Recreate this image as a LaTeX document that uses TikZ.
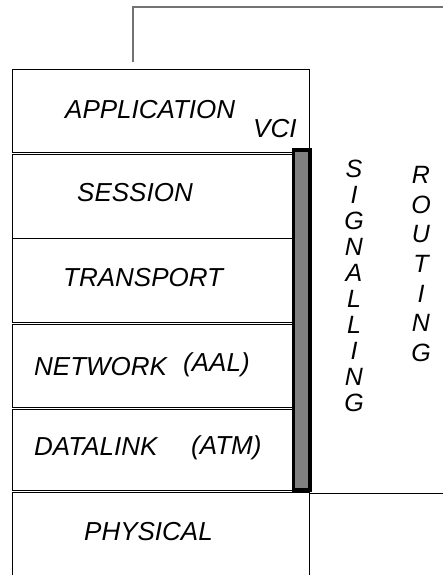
\documentclass[tikz,border=0pt]{standalone}
\usepackage{fontspec}
\setmainfont{Liberation Sans}
\begin{document}
\begin{tikzpicture}[x=1pt,y=-1pt,
  layer/.style={draw=black,line width=0.9pt},
  lbl/.style={inner sep=0pt,anchor=base west,font=\fontsize{26}{30}\selectfont\itshape},
  vert/.style={inner sep=0pt,anchor=north,align=center,font=\fontsize{25}{26}\selectfont\itshape},
  vertr/.style={vert,font=\fontsize{25}{29.7}\selectfont\itshape},
  bar/.style={draw=black,line width=3.5pt,fill=gray},
  thin/.style={draw=black,line width=0.9pt},
  topline/.style={draw=black!55,line width=1.1pt}
]
\useasboundingbox (0,0) rectangle (443,575);
% top gray line
\coordinate (t1) at (133,62);
\coordinate (t2) at (133,7);
\coordinate (t3) at (443,7);
\draw[topline] (t1) -- (t2) -- (t3);
% layer boxes
\draw[layer] (12,69) rectangle (309,152);
\draw[layer] (12,154) rectangle (293,238);
\draw[layer] (12,238) rectangle (293,322);
\draw[layer] (12,324) rectangle (293,407);
\draw[layer] (12,409) rectangle (293,490);
\draw[layer] (12,576) -- (12,492.7) -- (309.3,492.7) -- (309.3,576);
% bar
\draw[bar] (293.5,150) rectangle (310,490);
% right line
\coordinate (r1) at (310,493.5);
\coordinate (r2) at (443,493.5);
\draw[thin] (r1) -- (r2);
% labels
\node[lbl] (app) at (65,118) {APPLICATION};
\node[lbl] (vci) at (253,138) {VCI};
\node[lbl] (ses) at (77,201.7) {SESSION};
\node[lbl] (tra) at (63,286.7) {TRANSPORT};
\node[lbl] (net) at (34,375) {NETWORK};
\node[lbl] (aal) at (183,371.5) {(AAL)};
\node[lbl] (dat) at (34,455) {DATALINK};
\node[lbl] (atm) at (191,454) {(ATM)};
\node[lbl] (phy) at (84,540.7) {PHYSICAL};
\node[vert] (sig) at (354,160) {S\\I\\G\\N\\A\\L\\L\\I\\N\\G};
\node[vertr] (rou) at (421,166) {R\\O\\U\\T\\I\\N\\G};
\end{tikzpicture}
\end{document}
